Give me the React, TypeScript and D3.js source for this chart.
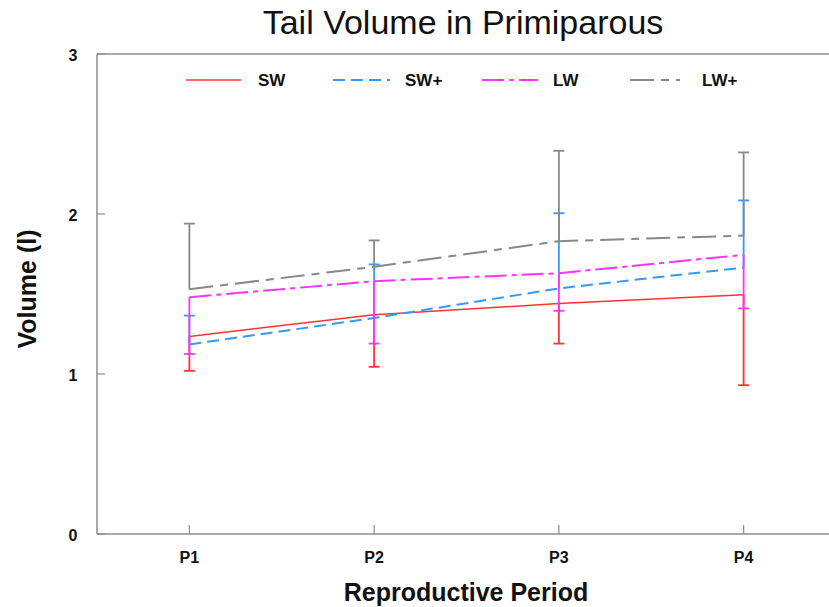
import React from "react";
import * as d3 from "d3";

const periods = ["P1", "P2", "P3", "P4"];
const seriesNames = ["SW", "SW+", "LW", "LW+"];
const swMean = [1.235, 1.37, 1.44, 1.495];
const swErr = [0.215, 0.325, 0.25, 0.565];
const swPlusMean = [1.185, 1.35, 1.535, 1.665];
const swPlusErr = [0.18, 0.335, 0.47, 0.42];
const lwMean = [1.48, 1.58, 1.63, 1.745];
const lwErr = [0.355, 0.39, 0.235, 0.335];
const lwPlusMean = [1.53, 1.67, 1.83, 1.865];
const lwPlusErr = [0.41, 0.165, 0.565, 0.52];
const yTicks = [0, 1, 2, 3];

const W = 829;
const H = 607;

export default function App() {
  const x = d3.scalePoint<string>().domain(periods).range([97, 836]).padding(0.5);
  const y = d3.scaleLinear().domain([0, 3]).range([534, 54]);
  const line = d3
    .line<number>()
    .x((_, i) => x(periods[i]) as number)
    .y((d) => y(d));

  const series = [
    { name: seriesNames[0], mean: swMean, err: swErr, dir: -1, color: "#ff3333", dash: "none", w: 1.5 },
    { name: seriesNames[1], mean: swPlusMean, err: swPlusErr, dir: 1, color: "#3399ff", dash: "12,6", w: 2 },
    { name: seriesNames[2], mean: lwMean, err: lwErr, dir: -1, color: "#ff33ff", dash: "22,5,5,5", w: 2 },
    { name: seriesNames[3], mean: lwPlusMean, err: lwPlusErr, dir: 1, color: "#888888", dash: "24,7,8,7", w: 2 },
  ];

  const legendX = [186, 333, 482, 630];
  const legendTextX = [258, 405, 553, 702];
  const legendLen = [55, 57, 56, 50];
  const font = "'Liberation Sans', Arial, sans-serif";
  const frame = "#8c8c8c";

  return (
    <svg
      width={W}
      height={H}
      style={{ position: "absolute", left: 0, top: 0, background: "#fff" }}
      fontFamily={font}
    >
      <rect width={W} height={H} fill="#fff" />
      <text x={463} y={34} textAnchor="middle" fontSize={34} fill="#111">
        Tail Volume in Primiparous
      </text>

      {/* frame */}
      <line x1={97} x2={97} y1={y(3)} y2={y(0)} stroke={frame} strokeWidth={1.5} />
      <line x1={97} x2={836} y1={y(0)} y2={y(0)} stroke={frame} strokeWidth={1.5} />
      <line x1={97} x2={836} y1={y(3)} y2={y(3)} stroke={frame} strokeWidth={1.5} />

      {yTicks.map((t) => (
        <g key={t}>
          <line x1={97} x2={105} y1={y(t)} y2={y(t)} stroke={frame} strokeWidth={1.2} />
          <text x={73} y={y(t) + 7} textAnchor="middle" fontSize={16} fontWeight="bold" fill="#111">
            {t}
          </text>
        </g>
      ))}
      {periods.map((p) => (
        <g key={p}>
          <line x1={x(p)} x2={x(p)} y1={y(0)} y2={y(0) - 9} stroke={frame} strokeWidth={1.2} />
          <text x={x(p)} y={563} textAnchor="middle" fontSize={16} fontWeight="bold" fill="#111">
            {p}
          </text>
        </g>
      ))}
      <text x={466} y={601} textAnchor="middle" fontSize={25} fontWeight="bold" fill="#111">
        Reproductive Period
      </text>
      <text
        transform={`translate(36,289) rotate(-90)`}
        textAnchor="middle"
        fontSize={25}
        fontWeight="bold"
        fill="#111"
      >
        Volume (l)
      </text>

      {/* error bars and lines */}
      {series.map((s) => (
        <g key={s.name}>
          {s.mean.map((m, i) => {
            const px = x(periods[i]) as number;
            const e = y(m + s.dir * s.err[i]);
            return (
              <g key={i}>
                <line x1={px} x2={px} y1={y(m)} y2={e} stroke={s.color} strokeWidth={1.8} />
                <line x1={px - 5.5} x2={px + 5.5} y1={e} y2={e} stroke={s.color} strokeWidth={1.8} />
              </g>
            );
          })}
          <path
            d={line(s.mean) || ""}
            fill="none"
            stroke={s.color}
            strokeWidth={s.w}
            strokeDasharray={s.dash}
          />
        </g>
      ))}

      {/* legend */}
      {series.map((s, i) => (
        <g key={s.name}>
          <line
            x1={legendX[i]}
            x2={legendX[i] + legendLen[i]}
            y1={80}
            y2={80}
            stroke={s.color}
            strokeWidth={s.w}
            strokeDasharray={s.dash}
          />
          <text x={legendTextX[i]} y={86} fontSize={17} fontWeight="bold" fill="#111">
            {s.name}
          </text>
        </g>
      ))}
    </svg>
  );
}
